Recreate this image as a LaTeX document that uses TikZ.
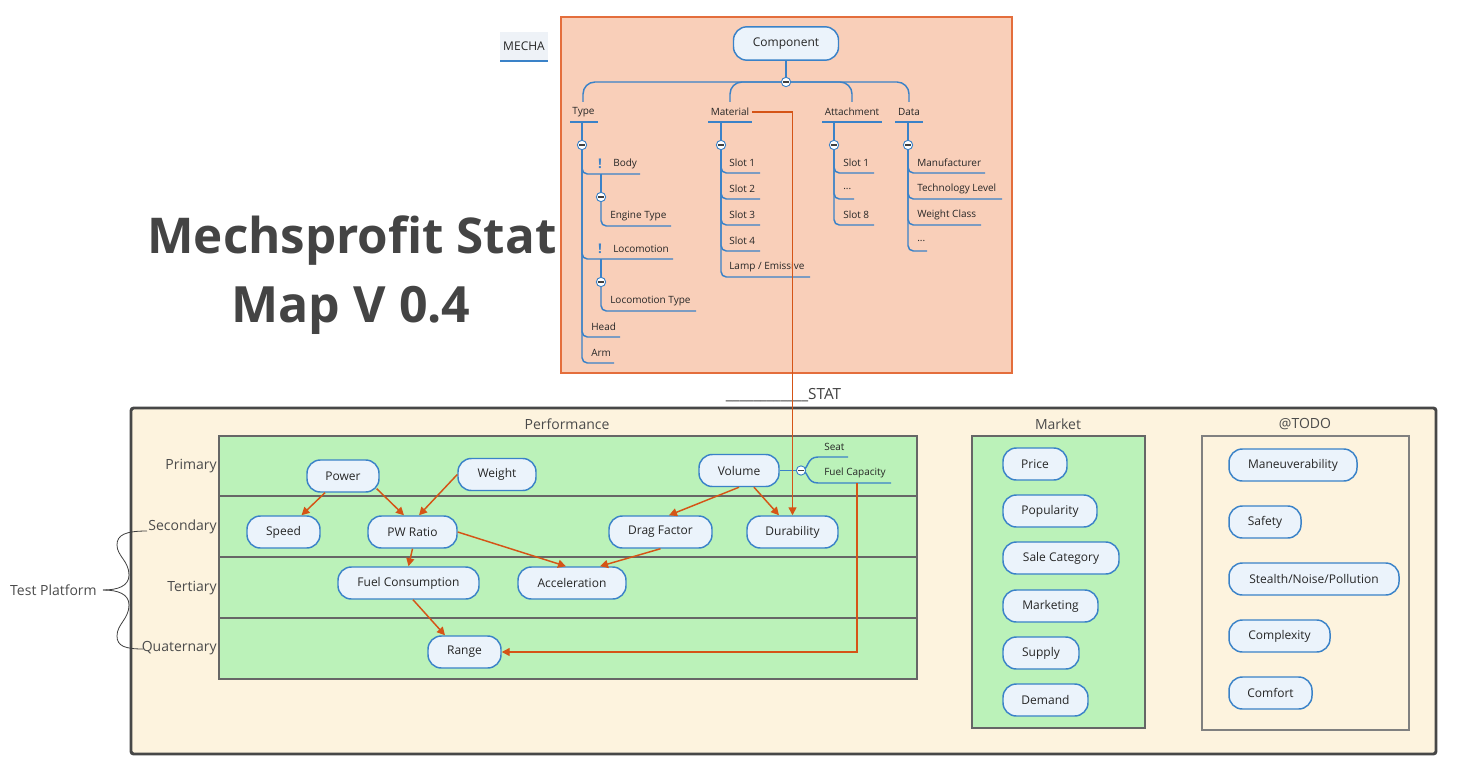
\documentclass[tikz,border=0pt]{standalone}
\usepackage{fontspec}
\setmainfont{Open Sans}
\usetikzlibrary{arrows.meta,calc}
\definecolor{nodeblue}{RGB}{58,130,200}
\definecolor{nodefill}{RGB}{235,243,251}
\definecolor{greenbg}{RGB}{187,242,185}
\definecolor{creambg}{RGB}{253,243,222}
\definecolor{salmon}{RGB}{249,207,185}
\definecolor{salmonedge}{RGB}{228,110,60}
\definecolor{arrred}{RGB}{213,84,22}
\definecolor{titlegray}{RGB}{68,68,68}
\definecolor{labgray}{RGB}{75,75,75}
\definecolor{mechabg}{RGB}{238,242,247}
\begin{document}
\begin{tikzpicture}[x=0.75pt,y=-0.75pt,
  pill/.style={draw=nodeblue, fill=nodefill, line width=1.1pt, rounded corners=10pt,
    minimum height=24pt, inner sep=0pt, minimum width=#1*0.75pt,
    font=\fontsize{9}{11}\selectfont, text=black!85},
  mlab/.style={anchor=west, inner sep=0pt, font=\fontsize{7.5}{9}\selectfont, text=black!85},
  clab/.style={inner sep=0pt, font=\fontsize{7.5}{9}\selectfont, text=black!85},
  rowlab/.style={anchor=east, inner sep=0pt, font=\fontsize{10.5}{12}\selectfont, text=labgray},
  seclab/.style={inner sep=0pt, font=\fontsize{10.5}{12}\selectfont, text=labgray},
  mline/.style={draw=nodeblue, line width=1.1pt},
  colb/.style={circle, draw=nodeblue, fill=white, line width=0.7pt, minimum size=7pt, inner sep=0pt,
    path picture={\draw[black!75, line width=0.8pt] ([xshift=1.5pt]path picture bounding box.west) -- ([xshift=-1.5pt]path picture bounding box.east);}},
  excl/.style={inner sep=0pt, text=nodeblue, font=\bfseries\fontsize{10}{10}\selectfont},
  redarr/.style={draw=arrred, line width=1.1pt, -{Triangle[length=6pt,width=6pt]}},
  redline/.style={draw=arrred, line width=1.1pt},
  areabox/.style={draw=black!60, line width=0.9pt}
]
\useasboundingbox (0,0) rectangle (1459,763);

% ---------------- MECHA box ----------------
\fill[salmon] (561,17) rectangle (1012,373);
\draw[salmonedge, line width=1.5pt] (561,17) rectangle (1012,373);

\fill[mechabg] (500,32) rectangle (548,61);
\draw[nodeblue, line width=1.3pt] (500,61) -- (548,61);
\node[clab, font=\fontsize{9}{10}\selectfont] (mecha) at (524,46) {MECHA};

% title
\node[anchor=base, inner sep=0pt, text=titlegray, font=\bfseries\fontsize{37}{40}\selectfont] (title1) at (352,253) {Mechsprofit Stat};
\node[anchor=base, inner sep=0pt, text=titlegray, font=\bfseries\fontsize{37.5}{40}\selectfont] (title2) at (351,322) {Map V 0.4};

% component root
\node[pill=105, minimum height=25pt] (comp) at (786,43.5) {Component};
\draw[mline] (comp.south) -- (786,82);
\draw[mline, rounded corners=9pt] (583,102) |- (909,82) -- (909,102);
\draw[mline, rounded corners=9pt] (730,102) |- (852,82) -- (852,102);
\node[colb] (cbroot) at (786,82) {};

% first level labels
\node[clab] (ltype) at (583.5,112) {Type};
\node[clab] (lmat) at (730,112) {Material};
\node[clab] (latt) at (852,112) {Attachment};
\node[clab] (ldata) at (909,112) {Data};
\draw[mline] (570,122) -- (598,122);
\draw[mline] (708,122) -- (752,122);
\draw[mline] (822,122) -- (882,122);
\draw[mline] (895,122) -- (923,122);

% Type subtree
\draw[mline] (582,122) -- (582,145);
\draw[mline, rounded corners=4pt] (582,145) |- (640,174);
\draw[mline, rounded corners=4pt] (582,145) |- (673,259);
\draw[mline, rounded corners=4pt] (582,145) |- (620,337);
\draw[mline, rounded corners=4pt] (582,145) |- (614,363);
\draw[mline] (601,174) -- (601,197);
\draw[mline, rounded corners=4pt] (601,197) |- (671,226);
\draw[mline] (601,259) -- (601,282);
\draw[mline, rounded corners=4pt] (601,282) |- (696,311);
\node[colb] (cbtype) at (582,145) {};
\node[colb] (cbbody) at (601,197) {};
\node[colb] (cbloco) at (601,282) {};
\node[excl] (ex1) at (600,164) {!};
\node[mlab] (body) at (613,164) {Body};
\node[mlab] (engine) at (610,216) {Engine Type};
\node[excl] (ex2) at (600,249) {!};
\node[mlab] (loco) at (613,249) {Locomotion};
\node[mlab] (locotype) at (610,301) {Locomotion Type};
\node[mlab] (head) at (591,327) {Head};
\node[mlab] (arm) at (591,353) {Arm};

% Material subtree
\draw[mline] (721,122) -- (721,145);
\foreach \yy/\xe in {173/760,199/760,225/760,251/760,277/810}
  \draw[mline, rounded corners=4pt] (721,145) |- (\xe,\yy);
\node[colb] (cbmat) at (721,145) {};
\node[mlab] (ms1) at (729,163) {Slot 1};
\node[mlab] (ms2) at (729,189) {Slot 2};
\node[mlab] (ms3) at (729,215) {Slot 3};
\node[mlab] (ms4) at (729,241) {Slot 4};
\node[mlab] (lamp) at (729,267) {Lamp / Emissive};

% Attachment subtree
\draw[mline] (834,122) -- (834,145);
\foreach \yy/\xe in {173/874,199/854,225/874}
  \draw[mline, rounded corners=4pt] (834,145) |- (\xe,\yy);
\node[colb] (cbatt) at (834,145) {};
\node[mlab] (as1) at (843,163) {Slot 1};
\node[mlab] (asd) at (843,189) {...};
\node[mlab] (as8) at (843,215) {Slot 8};

% Data subtree
\draw[mline] (908,122) -- (908,145);
\foreach \yy/\xe in {173/985,199/1002,225/981,251/927}
  \draw[mline, rounded corners=4pt] (908,145) |- (\xe,\yy);
\node[colb] (cbdata) at (908,145) {};
\node[mlab] (manu) at (917,163) {Manufacturer};
\node[mlab] (tech) at (917,189) {Technology Level};
\node[mlab] (wcls) at (917,215) {Weight Class};
\node[mlab] (dd) at (917,241) {...};

% STAT label
\node[inner sep=0pt, font=\fontsize{11.5}{13}\selectfont, text=black!75] (stat) at (783.5,395) {\_\_\_\_\_\_\_\_\_\_\_\_STAT};

% ---------------- STAT area ----------------
\draw[draw=black!72, line width=2.2pt, fill=creambg, rounded corners=2pt] (131,408) rectangle (1436,754);

\node[seclab] (perf) at (567,424) {Performance};
\node[seclab] (market) at (1058,424) {Market};
\node[seclab] (todo) at (1305,424) {@TODO};

\draw[areabox, fill=greenbg] (219,436) rectangle (917,679);
\draw[areabox] (219,496) -- (917,496);
\draw[areabox] (219,557) -- (917,557);
\draw[areabox] (219,618) -- (917,618);

\draw[areabox, fill=greenbg] (972,436) rectangle (1145,728);
\draw[draw=black!50, line width=0.9pt] (1202,436) rectangle (1409,730);

\node[rowlab] (primary) at (217,466) {Primary};
\node[rowlab] (secondary) at (217,527) {Secondary};
\node[rowlab] (tertiary) at (217,588) {Tertiary};
\node[rowlab] (quaternary) at (217,648) {Quaternary};

% brace
\node[seclab, anchor=east] (tp) at (97,590) {Test Platform};
\coordinate (btip) at (103,590);
\coordinate (btop) at (147,531);
\coordinate (bbot) at (143,649);
\draw[black!75, line width=0.6pt] (btip) .. controls (118,590) and (129,586) .. (129,575)
  .. controls (129,561) and (117,556) .. (117,545) .. controls (117,535) and (125,531) .. (btop);
\draw[black!75, line width=0.6pt] (btip) .. controls (118,590) and (129,594) .. (129,605)
  .. controls (129,619) and (117,624) .. (117,636) .. controls (117,646) and (125,649) .. (bbot);

% Performance nodes
\node[pill=72] (power) at (343,476) {Power};
\node[pill=78] (weight) at (497,474.5) {Weight};
\node[pill=80] (volume) at (739,470.5) {Volume};
\node[pill=73] (speed) at (283.5,532) {Speed};
\node[pill=89] (pw) at (412.5,532) {PW Ratio};
\node[pill=103] (drag) at (660.5,532) {Drag Factor};
\node[pill=91] (dur) at (792.5,532) {Durability};
\node[pill=141] (fc) at (408.5,583) {Fuel Consumption};
\node[pill=108] (acc) at (572,583) {Acceleration};
\node[pill=73] (range) at (464.5,652) {Range};

% Volume subtopics
\draw[mline] (volume.east) -- (801,470.5);
\draw[mline] (801,470.5) .. controls (809,470.5) and (806,457) .. (818,457) -- (848,457);
\draw[mline] (801,470.5) .. controls (809,470.5) and (806,483) .. (818,483) -- (891,483);
\node[colb] (cbvol) at (801,470.5) {};
\node[mlab] (seat) at (824,447) {Seat};
\node[mlab] (fcap) at (824,473) {Fuel Capacity};
\coordinate (fcapu) at (857,483);

% Market nodes
\node[pill=64] (price) at (1035,464) {Price};
\node[pill=94] (popularity) at (1050,511) {Popularity};
\node[pill=116] (salecat) at (1061,558) {Sale Category};
\node[pill=95] (marketing) at (1050.5,606) {Marketing};
\node[pill=76] (supply) at (1041,653) {Supply};
\node[pill=85] (demand) at (1045.5,700) {Demand};

% TODO nodes
\node[pill=128] (maneuv) at (1293,465) {Maneuverability};
\node[pill=72] (safety) at (1265,522) {Safety};
\node[pill=170] (stealth) at (1314,579) {Stealth/Noise/Pollution};
\node[pill=101] (complexity) at (1279.5,636) {Complexity};
\node[pill=83] (comfort) at (1270.5,693) {Comfort};

% arrows
\draw[redarr] ($(power.south)+(-18,0)$) -- ($(speed.north)+(18,0)$);
\draw[redarr] ($(power.south east)+(-3,-4)$) -- ($(pw.north)+(-8.5,0)$);
\draw[redarr] (weight.west) -- ($(pw.north)+(6.5,0)$);
\draw[redarr] (pw.east) -- ($(acc.north)+(-6,0)$);
\draw[redarr] (pw.south) -- (fc.north);
\draw[redarr] (volume.south) -- ($(drag.north)+(8.5,0)$);
\draw[redarr] ($(volume.south)+(15,0)$) -- ($(dur.north)+(-13.5,0)$);
\draw[redarr] (drag.south) -- ($(acc.north)+(28,0)$);
\draw[redarr] ($(fc.south)+(4.5,0)$) -- ($(range.north)+(-19.5,0)$);
\draw[redarr] ($(lmat.east)+(3,0)$) -| (dur.north);
\draw[redarr] (fcapu) |- (range.east);
\end{tikzpicture}
\end{document}
